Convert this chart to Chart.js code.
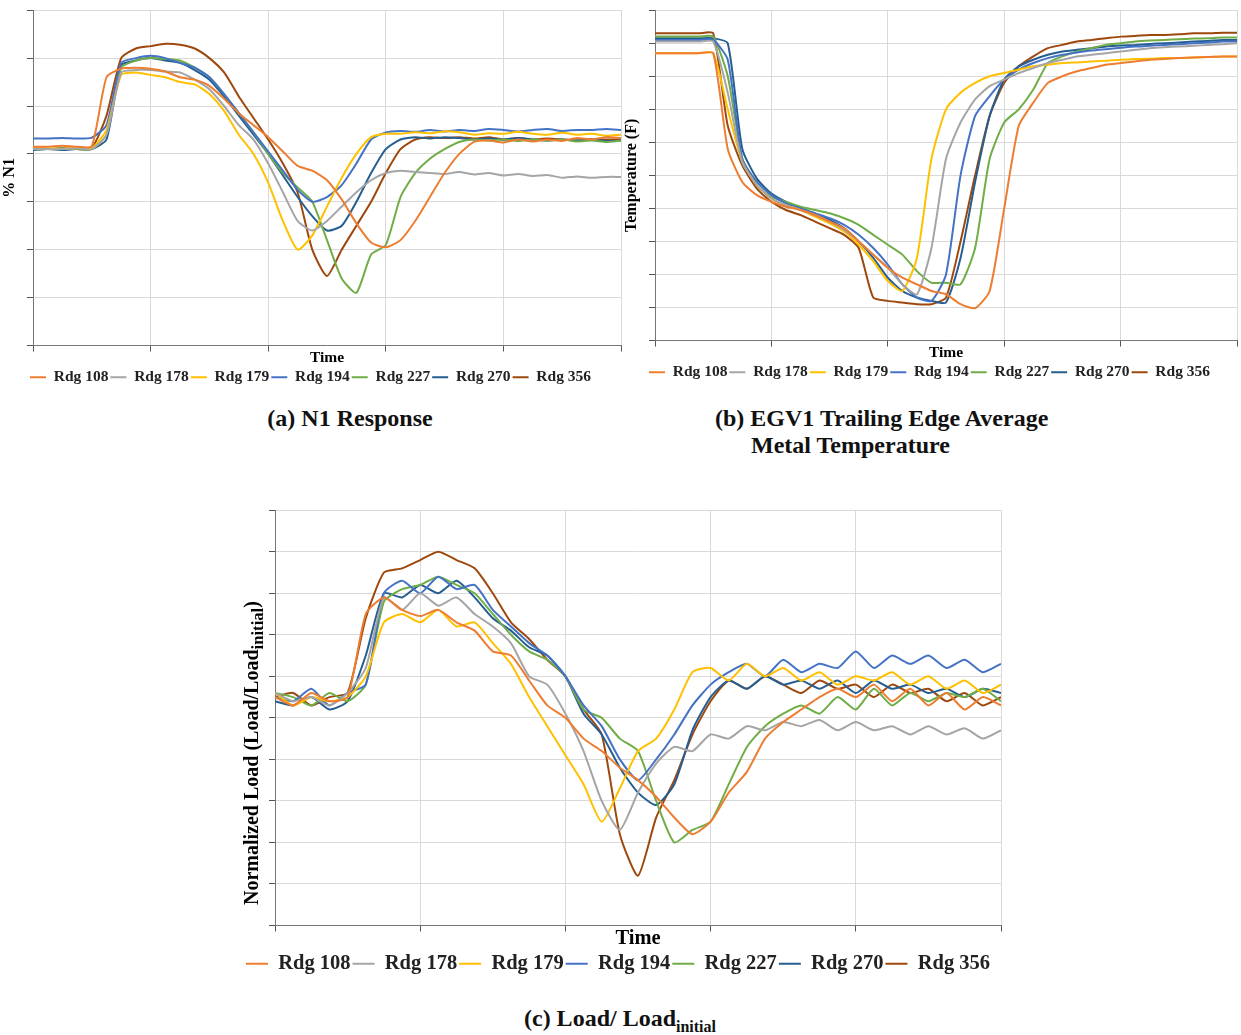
<!DOCTYPE html>
<html>
<head>
<meta charset="utf-8">
<script src="https://cdn.jsdelivr.net/npm/chart.js@4"></script>
<style>
  body { margin: 0; background: #fff; font-family: "Liberation Serif", serif; }
  .box { position: absolute; }
  .cap { position: absolute; font-weight: bold; font-size: 24px; text-align: center; color: #111; }
  #ytitleC { position: absolute; left: 240px; top: 905px; transform-origin: 0 0; transform: rotate(-90deg);
             font-weight: bold; font-size: 20px; white-space: nowrap; }
</style>
</head>
<body>
<div class="box" style="left:0;top:0;width:625px;height:395px"><canvas id="chartA"></canvas></div>
<div class="box" style="left:622px;top:0;width:619px;height:390px"><canvas id="chartB"></canvas></div>
<div class="box" style="left:235px;top:500px;width:770px;height:484px"><canvas id="chartC"></canvas></div>
<div id="ytitleC">Normalized Load (Load/Load<sub>initial</sub>)</div>
<div class="cap" style="left:200px;top:405px;width:300px">(a) N1 Response</div>
<div class="cap" style="left:715px;top:405px;width:420px;text-align:left">(b) EGV1 Trailing Edge Average<br>&nbsp;&nbsp;&nbsp;&nbsp;&nbsp;&nbsp;Metal Temperature</div>
<div class="cap" style="left:420px;top:1005px;width:400px">(c) Load/ Load<sub style="font-size:16px">initial</sub></div>
<script>
const time = [0,2.5,5,7.5,10,12.5,15,17.5,20,22.5,25,27.5,30,32.5,35,37.5,40,42.5,45,47.5,50,
  52.5,55,57.5,60,62.5,65,67.5,70,72.5,75,77.5,80,82.5,85,87.5,90,92.5,95,97.5,100];
const names = ["Rdg 108","Rdg 178","Rdg 179","Rdg 194","Rdg 227","Rdg 270","Rdg 356"];
const colors = ["#ED7D31","#A5A5A5","#FFC000","#4472C4","#70AD47","#255E91","#9E480E"];

// (a) N1 response
const n1_108 = [4.15,4.15,4.17,4.15,4.16,5.6,5.78,5.8,5.78,5.72,5.6,5.55,5.42,5.15,4.85,4.6,4.35,4.05,3.75,3.65,3.45,3.05,2.55,2.15,2.05,2.2,2.6,3.1,3.6,4.0,4.25,4.28,4.24,4.3,4.26,4.3,4.27,4.33,4.3,4.35,4.33];
const n1_178 = [4.1,4.1,4.1,4.12,4.1,4.4,5.7,5.75,5.75,5.72,5.7,5.55,5.35,5.0,4.6,4.3,3.8,3.2,2.6,2.4,2.6,2.9,3.2,3.45,3.6,3.65,3.62,3.6,3.58,3.62,3.57,3.6,3.55,3.58,3.54,3.56,3.5,3.53,3.5,3.52,3.52];
const n1_179 = [4.12,4.12,4.1,4.13,4.12,4.5,5.65,5.7,5.65,5.6,5.5,5.45,5.25,4.9,4.4,4.0,3.4,2.6,2.0,2.3,2.9,3.5,4.0,4.35,4.42,4.42,4.45,4.43,4.47,4.45,4.4,4.43,4.42,4.46,4.42,4.4,4.44,4.4,4.42,4.38,4.4];
const n1_194 = [4.32,4.32,4.33,4.32,4.34,4.6,5.9,6.0,6.05,6.0,5.9,5.8,5.6,5.25,4.85,4.45,4.05,3.65,3.25,3.0,3.1,3.35,3.8,4.3,4.45,4.48,4.46,4.5,4.47,4.5,4.48,4.52,4.5,4.47,4.5,4.52,4.48,4.5,4.5,4.52,4.5];
const n1_227 = [4.1,4.1,4.12,4.1,4.1,4.4,5.8,5.95,6.0,5.98,5.95,5.8,5.6,5.25,4.85,4.45,4.0,3.6,3.3,3.0,2.2,1.4,1.1,1.9,2.1,3.1,3.6,3.9,4.1,4.25,4.3,4.28,4.3,4.27,4.3,4.28,4.3,4.26,4.28,4.25,4.28];
const n1_270 = [4.08,4.1,4.08,4.1,4.1,4.3,5.85,5.95,6.0,5.95,5.9,5.75,5.55,5.2,4.8,4.4,4.0,3.55,3.1,2.7,2.4,2.5,3.0,3.6,4.1,4.3,4.35,4.32,4.35,4.33,4.3,4.32,4.3,4.33,4.3,4.28,4.3,4.28,4.3,4.27,4.28];
const n1_356 = [4.12,4.1,4.12,4.1,4.12,4.8,6.0,6.2,6.25,6.3,6.28,6.2,6.0,5.7,5.2,4.75,4.3,3.8,3.2,2.0,1.45,2.0,2.5,3.0,3.6,4.1,4.3,4.35,4.33,4.35,4.32,4.35,4.3,4.33,4.3,4.32,4.3,4.28,4.3,4.3,4.3];

// (b) EGV1 trailing edge temperature
const t_108 = [8.7,8.7,8.7,8.7,8.7,5.8,4.8,4.4,4.2,4.05,3.95,3.8,3.6,3.4,3.0,2.6,2.2,1.9,1.7,1.5,1.4,1.1,0.98,1.5,4.0,6.5,7.2,7.8,8.0,8.15,8.25,8.35,8.4,8.45,8.5,8.52,8.55,8.57,8.58,8.6,8.6];
const t_178 = [9.05,9.05,9.05,9.05,9.05,7.5,5.4,4.7,4.3,4.1,3.95,3.8,3.6,3.35,3.0,2.6,2.2,1.7,1.4,2.8,5.5,6.6,7.3,7.7,7.9,8.1,8.25,8.4,8.5,8.6,8.65,8.7,8.75,8.8,8.85,8.88,8.9,8.92,8.95,8.97,9.0];
const t_179 = [8.7,8.7,8.7,8.7,8.7,7.0,5.4,4.7,4.3,4.1,3.95,3.75,3.55,3.3,2.9,2.4,1.8,1.5,2.5,5.5,7.0,7.5,7.8,8.0,8.1,8.2,8.3,8.35,8.4,8.42,8.45,8.47,8.5,8.52,8.53,8.55,8.55,8.57,8.58,8.6,8.6];
const t_194 = [9.1,9.1,9.1,9.1,9.1,8.5,5.5,4.8,4.4,4.15,4.0,3.85,3.7,3.5,3.2,2.8,2.3,1.7,1.3,1.2,2.0,5.0,6.8,7.4,7.9,8.2,8.4,8.55,8.65,8.72,8.78,8.82,8.86,8.9,8.92,8.95,8.97,9.0,9.02,9.05,9.05];
const t_227 = [9.2,9.2,9.2,9.2,9.2,8.0,5.5,4.7,4.35,4.2,4.05,3.95,3.85,3.7,3.5,3.2,2.9,2.6,2.1,1.75,1.75,1.7,2.8,5.5,6.6,7.0,7.6,8.4,8.6,8.75,8.85,8.95,9.0,9.05,9.08,9.1,9.12,9.14,9.15,9.17,9.17];
const t_270 = [9.15,9.15,9.15,9.15,9.15,9.0,5.8,4.9,4.45,4.2,4.0,3.85,3.65,3.4,3.0,2.5,1.9,1.5,1.3,1.2,1.15,2.5,4.8,6.8,7.9,8.3,8.5,8.65,8.75,8.8,8.85,8.9,8.93,8.95,8.98,9.0,9.02,9.05,9.07,9.1,9.1];
const t_356 = [9.3,9.3,9.3,9.3,9.3,6.5,5.3,4.6,4.2,3.95,3.8,3.6,3.4,3.2,2.8,1.3,1.2,1.15,1.1,1.1,1.3,3.0,5.0,6.8,7.8,8.3,8.6,8.85,8.95,9.05,9.1,9.15,9.2,9.22,9.25,9.25,9.27,9.3,9.3,9.32,9.32];

// (c) normalized load
const l_108 = [5.5,5.3,5.6,5.4,5.5,7.5,7.9,7.6,7.45,7.6,7.3,7.1,6.6,6.5,5.9,5.3,5.0,4.5,4.2,3.8,3.5,3.1,2.6,2.2,2.5,3.2,3.7,4.5,4.9,5.2,5.5,5.7,5.5,5.8,5.4,5.7,5.3,5.6,5.2,5.5,5.3];
const l_178 = [5.6,5.4,5.5,5.3,5.6,6.2,7.9,7.6,8.0,7.7,7.9,7.5,7.2,6.8,6.0,5.8,5.1,4.2,3.0,2.3,3.2,3.9,4.3,4.2,4.6,4.5,4.8,4.7,4.9,4.8,4.95,4.7,4.9,4.7,4.8,4.6,4.8,4.6,4.75,4.5,4.7];
const l_179 = [5.6,5.3,5.5,5.4,5.5,6.0,7.3,7.5,7.3,7.6,7.2,7.3,6.8,6.3,5.5,4.8,4.1,3.4,2.5,3.3,4.2,4.5,5.2,6.1,6.2,5.9,6.3,6.0,6.2,5.9,6.1,5.8,6.0,5.9,6.1,5.8,6.0,5.7,5.9,5.6,5.8];
const l_194 = [5.5,5.4,5.7,5.3,5.6,5.8,8.0,8.3,8.0,8.4,8.1,8.2,7.6,7.2,6.8,6.5,6.0,5.3,4.8,4.0,3.5,4.0,4.6,5.3,5.8,6.1,6.3,6.0,6.4,6.1,6.3,6.2,6.6,6.2,6.5,6.3,6.5,6.2,6.4,6.1,6.3];
const l_227 = [5.6,5.5,5.3,5.6,5.4,5.8,7.8,8.1,8.2,8.4,8.2,8.0,7.5,7.0,6.6,6.4,6.0,5.2,5.0,4.5,4.2,3.0,2.0,2.3,2.5,3.4,4.3,4.8,5.1,5.3,5.1,5.5,5.2,5.7,5.3,5.6,5.4,5.6,5.5,5.7,5.4];
const l_270 = [5.4,5.3,5.5,5.2,5.4,6.5,8.0,7.9,8.2,8.0,8.3,7.9,7.4,7.1,6.7,6.5,6.0,5.1,4.6,3.8,3.2,2.9,3.4,4.7,5.5,5.9,5.7,6.0,5.8,5.9,5.7,5.9,5.6,5.9,5.7,5.8,5.6,5.7,5.5,5.7,5.6];
const l_356 = [5.5,5.6,5.3,5.5,5.6,7.4,8.5,8.6,8.8,9.0,8.8,8.6,8.0,7.3,6.9,6.4,6.0,5.2,4.6,2.2,1.2,2.6,3.5,4.6,5.4,5.9,5.7,6.0,5.8,5.6,5.9,5.7,5.8,5.5,5.8,5.6,5.7,5.4,5.6,5.3,5.5];

function makeChart(id, series, yMax, yStep, yTitle, yWidth, xHeight, legendSize, lineW) {
  const datasets = series.map((vals, i) => ({
    label: names[i],
    data: vals.map((v, k) => ({ x: time[k], y: v })),
    borderColor: colors[i],
    backgroundColor: colors[i],
    borderWidth: 2,
    pointRadius: 0,
    pointStyle: "line",
    tension: 0.2,
  }));
  return new Chart(document.getElementById(id), {
    type: "line",
    data: { datasets: datasets },
    options: {
      responsive: true,
      maintainAspectRatio: false,
      animation: false,
      layout: { padding: { top: 10, right: 4 } },
      scales: {
        x: {
          type: "linear", min: 0, max: 100,
          ticks: { stepSize: 20, callback: () => "", maxRotation: 0 },
          grid: { color: "#d9d9d9", tickColor: "#555", tickLength: 6 },
          border: { color: "#777" },
          title: { display: true, text: "Time", color: "#000", padding: 0,
                   font: { family: "Liberation Serif", weight: "bold", size: legendSize } },
          afterFit: (s) => { s.height = xHeight; },
        },
        y: {
          min: 0, max: yMax,
          ticks: { stepSize: yStep, callback: () => "" },
          grid: { color: "#d9d9d9", tickColor: "#555", tickLength: 6 },
          border: { color: "#777" },
          title: { display: yTitle !== "", text: yTitle, color: "#000", padding: 0,
                   font: { family: "Liberation Serif", weight: "bold", size: 16 } },
          afterFit: (s) => { s.width = yWidth; },
        },
      },
      plugins: {
        legend: {
          position: "bottom",
          labels: {
            color: "#222", usePointStyle: true, pointStyle: "line", pointStyleWidth: lineW,
            boxHeight: 2, padding: 2,
            font: { family: "Liberation Serif", weight: "bold", size: legendSize },
          },
        },
        tooltip: { enabled: false },
      },
    },
  });
}

makeChart("chartA", [n1_108, n1_178, n1_179, n1_194, n1_227, n1_270, n1_356], 7, 1, "% N1", 33, 22, 15.5, 16);
makeChart("chartB", [t_108, t_178, t_179, t_194, t_227, t_270, t_356], 10, 1, "Temperature (F)", 33, 22, 15.5, 16);
makeChart("chartC", [l_108, l_178, l_179, l_194, l_227, l_270, l_356], 10, 1, "", 40, 26, 20.5, 22);
</script>
</body>
</html>
